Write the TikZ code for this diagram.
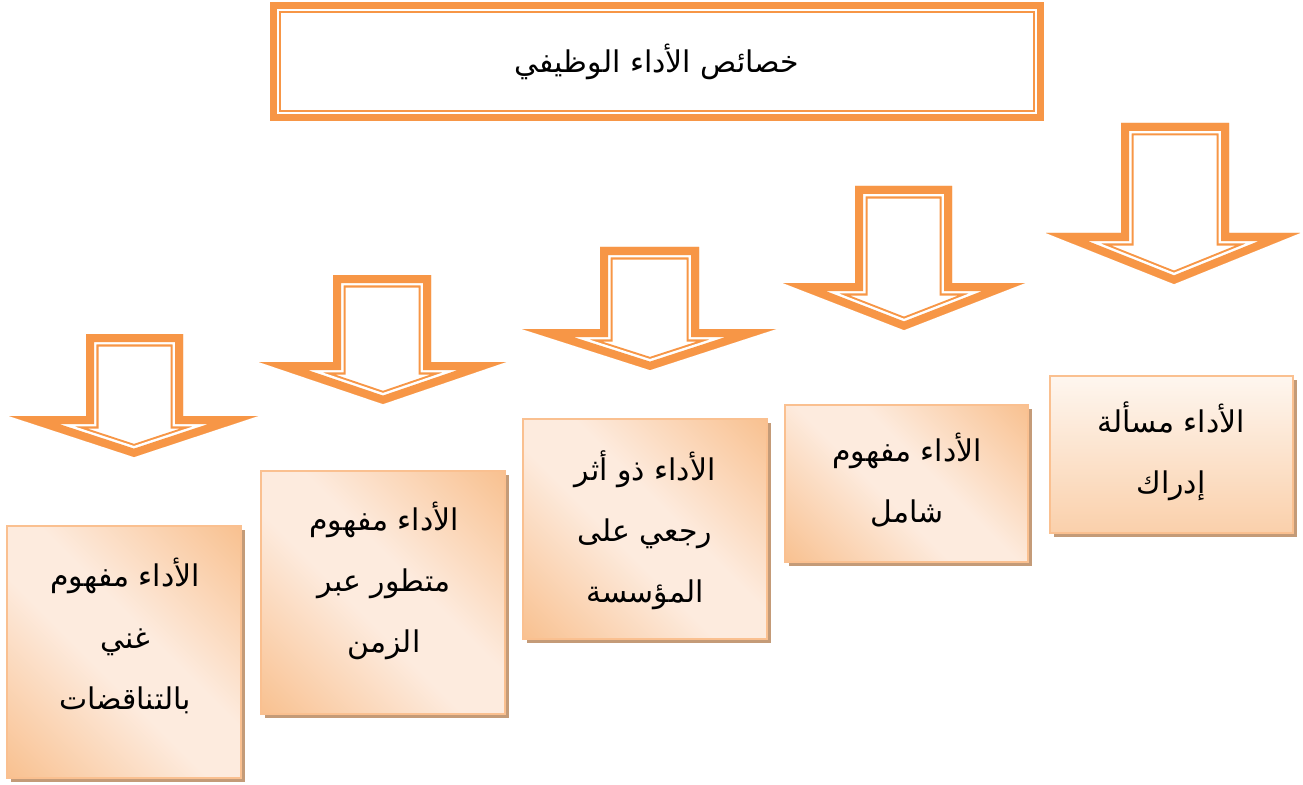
\documentclass[tikz,border=0pt]{standalone}
\usepackage{fontspec}
\usetikzlibrary{shadows}
\newfontfamily\arabicfont[Script=Arabic]{DejaVu Sans}
\TeXXeTstate=1
\definecolor{accent}{HTML}{F79646}
\definecolor{cardedge}{HTML}{FAC090}
\definecolor{carddark}{HTML}{F8BD89}
\definecolor{cardlight}{HTML}{FDEBDE}
\definecolor{cardtop}{HTML}{FEF6EF}
\definecolor{cardbot}{HTML}{FAD0AB}
\definecolor{cardshadow}{RGB}{196,155,120}
\pgfdeclarehorizontalshading{cardshade}{100bp}{color(0bp)=(carddark); color(12bp)=(carddark); color(44bp)=(cardlight); color(56bp)=(cardlight); color(88bp)=(carddark); color(100bp)=(carddark)}
\newcommand\dnarrow[8]{%
  \begin{scope}
    \clip (#1,#3) -- (#2,#3) -- (#2,#4) -- (#6,#4) -- (#7,#8) -- (#5,#4) -- (#1,#4) -- cycle;
    \draw[accent, line width=7.11pt, line join=miter, miter limit=30] (#1,#3) -- (#2,#3) -- (#2,#4) -- (#6,#4) -- (#7,#8) -- (#5,#4) -- (#1,#4) -- cycle;
    \draw[white, line width=5.97pt, line join=miter, miter limit=30] (#1,#3) -- (#2,#3) -- (#2,#4) -- (#6,#4) -- (#7,#8) -- (#5,#4) -- (#1,#4) -- cycle;
    \draw[accent, line width=4.55pt, line join=miter, miter limit=30] (#1,#3) -- (#2,#3) -- (#2,#4) -- (#6,#4) -- (#7,#8) -- (#5,#4) -- (#1,#4) -- cycle;
  \end{scope}}
\tikzset{
  cardbase/.style={draw=cardedge, line width=0.8pt, inner sep=0pt,
    drop shadow={shadow xshift=1.15pt, shadow yshift=-1.15pt, fill=cardshadow, opacity=1}},
  card/.style={cardbase, shading=cardshade, shading angle=45},
  cardv/.style={cardbase, top color=cardtop, bottom color=cardbot},
  txt/.style={align=center, font=\arabicfont\fontsize{8.5}{17.4}\selectfont, inner sep=0pt}
}
\begin{document}
\begin{tikzpicture}[x=0.01cm, y=-0.01cm]
\useasboundingbox (0,0) rectangle (1303,785);

% title
\node[txt, minimum width=7.72cm, minimum height=1.17cm] (title) at (657,61.5) {\beginR خصائص الأداء الوظيفي\endR};
\begin{scope}
  \clip (title.north west) rectangle (title.south east);
  \draw[accent, line width=6.26pt] (title.north west) rectangle (title.south east);
  \draw[white, line width=5.12pt] (title.north west) rectangle (title.south east);
  \draw[accent, line width=3.98pt] (title.north west) rectangle (title.south east);
\end{scope}

% arrows
\dnarrow{86}{183}{334}{416}{9}{258}{134}{457}
\dnarrow{333}{431}{275}{362}{259}{506}{383}{404}
\dnarrow{600}{699}{247}{329}{522}{776}{650}{370}
\dnarrow{855}{952}{186}{283}{783}{1025}{904}{330}
\dnarrow{1121}{1229}{123}{233}{1046}{1300}{1174}{284}

% cards
\node[card, minimum width=2.34cm, minimum height=2.52cm] (b1) at (124,652) {};
\node[card, minimum width=2.44cm, minimum height=2.43cm] (b2) at (383,592.5) {};
\node[card, minimum width=2.44cm, minimum height=2.20cm] (b3) at (645,529) {};
\node[card, minimum width=2.43cm, minimum height=1.57cm] (b4) at (906.5,483.5) {};
\node[cardv, minimum width=2.43cm, minimum height=1.57cm] (b5) at (1171.5,454.5) {};

\node[txt] (t1) at (125,636) {\beginR الأداء مفهوم\endR\\ \beginR غني\endR\\ \beginR بالتناقضات\endR};
\node[txt] (t2) at (384,581) {\beginR الأداء مفهوم\endR\\ \beginR متطور عبر\endR\\ \beginR الزمن\endR};
\node[txt] (t3) at (645,530) {\beginR الأداء ذو أثر\endR\\ \beginR رجعي على\endR\\ \beginR المؤسسة\endR};
\node[txt] (t4) at (907,480) {\beginR الأداء مفهوم\endR\\ \beginR شامل\endR};
\node[txt] (t5) at (1171,451) {\beginR الأداء مسألة\endR\\ \beginR إدراك\endR};
\end{tikzpicture}
\end{document}
